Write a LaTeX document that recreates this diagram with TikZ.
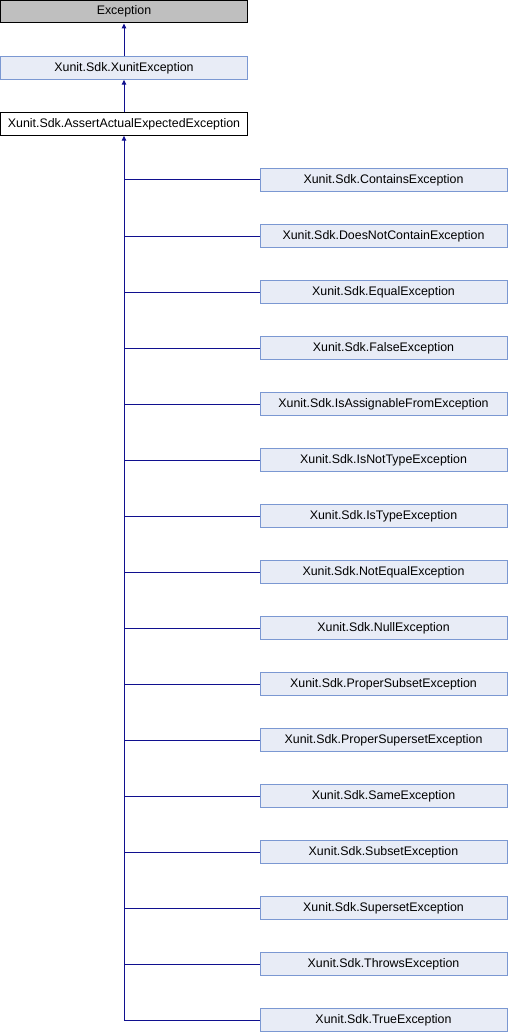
\documentclass[tikz,border=0pt]{standalone}
\usepackage{fontspec}
\setmainfont{Liberation Sans}
\usetikzlibrary{arrows.meta}
\definecolor{edgeblue}{HTML}{10108F}
\definecolor{boxfill}{HTML}{E8ECF6}
\definecolor{boxdraw}{HTML}{7B98D2}
\definecolor{grayfill}{HTML}{BFBFBF}
\begin{document}
\begin{tikzpicture}[x=1pt,y=-1pt,
  base/.style={draw,line width=1pt,minimum width=247pt,minimum height=22.5pt,inner sep=0pt,
    font=\fontsize{12.4}{14}\selectfont,anchor=center},
  graybox/.style={base,fill=grayfill,draw=black},
  bluebox/.style={base,fill=boxfill,draw=boxdraw},
  whitebox/.style={base,fill=white,draw=black},
  edge/.style={draw=edgeblue,line width=1pt},
  inh/.style={edge,-{Triangle[width=4.5pt,length=5pt]}}]
\useasboundingbox (0,0) rectangle (508,1032);
\node[graybox] (exc) at (124,11.7) {Exception};
\node[bluebox] (xunit) at (124,68) {Xunit.Sdk.XunitException};
\node[whitebox] (assert) at (124,124) {Xunit.Sdk.AssertActualExpectedException};
\foreach \i/\name in {0/Contains,1/DoesNotContain,2/Equal,3/False,4/IsAssignableFrom,5/IsNotType,6/IsType,7/NotEqual,8/Null,9/ProperSubset,10/ProperSuperset,11/Same,12/Subset,13/Superset,14/Throws,15/True}{
  \node[bluebox] (c\i) at (383.5,{180+56*\i}) {Xunit.Sdk.\name Exception};
  \draw[edge] (c\i.west) -- (c\i.west -| assert.south);
}
\draw[inh] (xunit.north) -- (exc.south);
\draw[inh] (assert.north) -- (xunit.south);
\draw[inh] (c15.west -| assert.south) -- (assert.south);
\end{tikzpicture}
\end{document}
